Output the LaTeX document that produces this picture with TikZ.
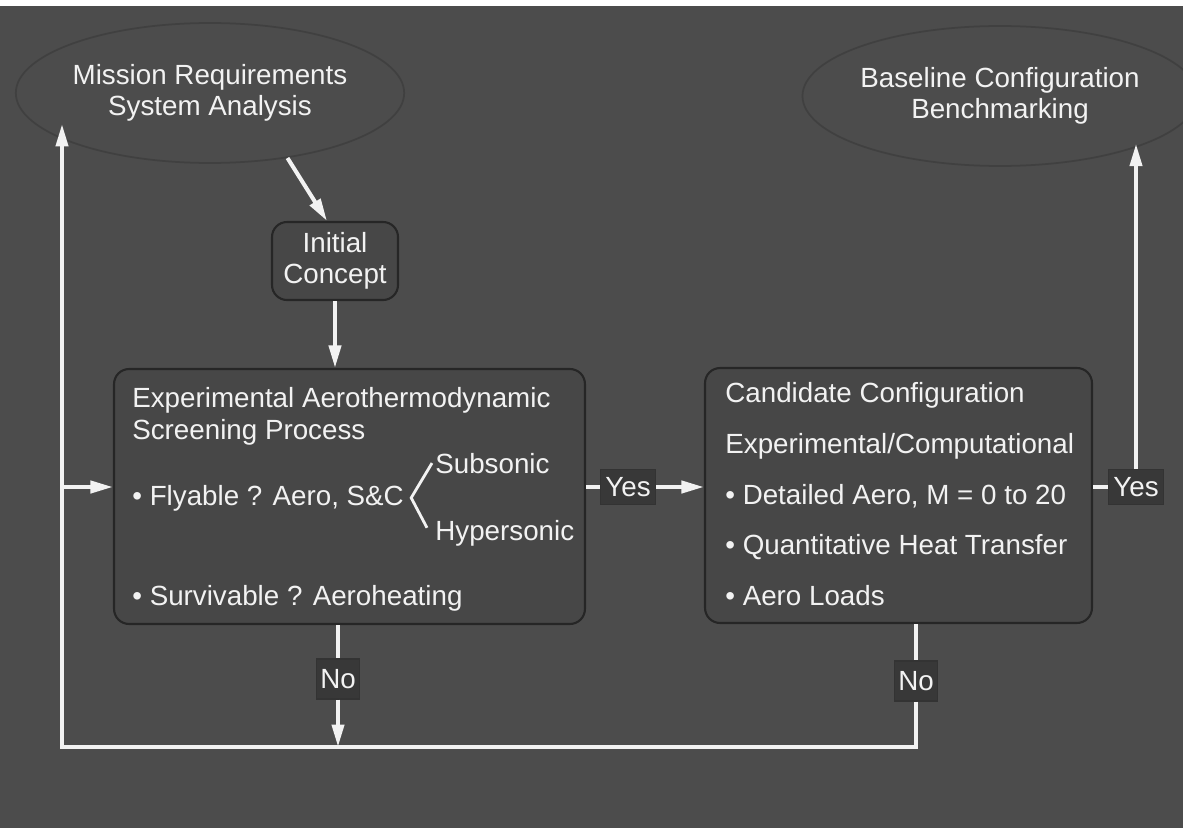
\documentclass[tikz,border=0pt]{standalone}
\usepackage{fontspec}
\setmainfont{Liberation Sans}
\usepackage{tikz}
\usetikzlibrary{arrows.meta,shapes.geometric}
\definecolor{slate}{gray}{0.30}
\definecolor{panelfill}{gray}{0.28}
\definecolor{tagfill}{gray}{0.22}
\definecolor{chalk}{gray}{0.95}

\begin{document}
\begin{tikzpicture}[
  x=0.02cm, y=-0.02cm,
  every node/.style={text=chalk, font=\fontsize{15.8}{18}\selectfont},
  oval/.style={ellipse, draw=black!75, line width=1pt, inner sep=0pt, align=center},
  panel/.style={rectangle, rounded corners=0.3cm, draw=black!85, line width=1.2pt,
    fill=panelfill, inner sep=0pt},
  tag/.style={rectangle, draw=black!80, fill=tagfill, line width=0.8pt,
    inner sep=0pt, minimum height=0.7cm, minimum width=#1},
  tag/.default=1.1cm,
  txt/.style={inner sep=0pt, anchor=base west},
  link/.style={draw=chalk, line width=2.3pt},
  flow/.style={link, -{Triangle[length=0.45cm,width=0.24cm]}}
]
% backdrop
\fill[white] (0,0) rectangle (1183,828);
\fill[slate] (0,6) rectangle (1183,828);
\useasboundingbox (0,0) rectangle (1183,828);

% Top: start and goal
\node[oval, minimum width=6.4cm, minimum height=2.8cm] (mission) at (210,93)
  {Mission Requirements\\System Analysis};
\node[oval, minimum width=6.7cm, minimum height=2.8cm] (baseline) at (1000,96)
  {Baseline Configuration\\Benchmarking};
\node[panel, minimum width=2.52cm, minimum height=1.56cm, align=center] (concept)
  at (335,261) {Initial\\Concept};

% Left: screening process
\node[panel, minimum width=9.42cm, minimum height=5.1cm] (screen) at (349.5,496.5) {};
\node[inner sep=0pt, anchor=north west, align=left] (screentitle) at (132,387)
  {Experimental Aerothermodynamic\\Screening Process};
\node[txt] (fly) at (132,505) {\textbullet\ Flyable ? Aero, S\&C};
\node[txt] (sub) at (435,473) {Subsonic};
\node[txt] (hyp) at (435,540) {Hypersonic};
\node[txt] (surv) at (132,605) {\textbullet\ Survivable ? Aeroheating};
\draw[chalk, line width=1.6pt] ([xshift=-0.06cm]sub.west)
  -- ([xshift=0.14cm]fly.east) -- ([xshift=-0.16cm,yshift=0.1cm]hyp.west);

% Right: candidate configuration
\node[panel, minimum width=7.74cm, minimum height=5.1cm] (cand) at (898.5,495.5) {};
\node[inner sep=0pt, anchor=north west, align=left,
  font=\fontsize{15.8}{28.9}\selectfont] (candtext) at (725,382)
  {Candidate Configuration\\
   Experimental/Computational\\
   \textbullet\ Detailed Aero, M = 0 to 20\\
   \textbullet\ Quantitative Heat Transfer\\
   \textbullet\ Aero Loads};

% Decisions
\node[tag] (yesmid) at (628,487) {Yes};
\node[tag] (yesup) at (1136,487) {Yes};
\node[tag=0.85cm, minimum height=0.8cm] (nodown) at (338,679) {No};
\node[tag=0.85cm, minimum height=0.8cm] (noback) at (916,681) {No};
\coordinate (corner) at (62,747);

% Connectors
\draw[flow] (mission.-40) -- ([xshift=-0.16cm]concept.north);
\draw[flow] (concept.south) -- (concept.south |- screen.north);
\draw[link] (screen.east |- yesmid) -- (yesmid.west);
\draw[flow] (yesmid.east) -- (cand.west |- yesmid);
\draw[link] (cand.east |- yesup) -- (yesup.west);
\draw[flow] (yesup.north) -- (yesup.north |- baseline.-18);
\draw[link] (screen.south -| nodown) -- (nodown.north);
\draw[flow] (nodown.south) -- (nodown |- corner);
\draw[link] (cand.south -| noback) -- (noback.north);
\draw[flow] (noback.south) -- (noback |- corner) -- (corner) -- (corner |- mission.190);
\draw[flow] (corner |- yesmid) -- (screen.west |- yesmid);
\end{tikzpicture}
\end{document}
